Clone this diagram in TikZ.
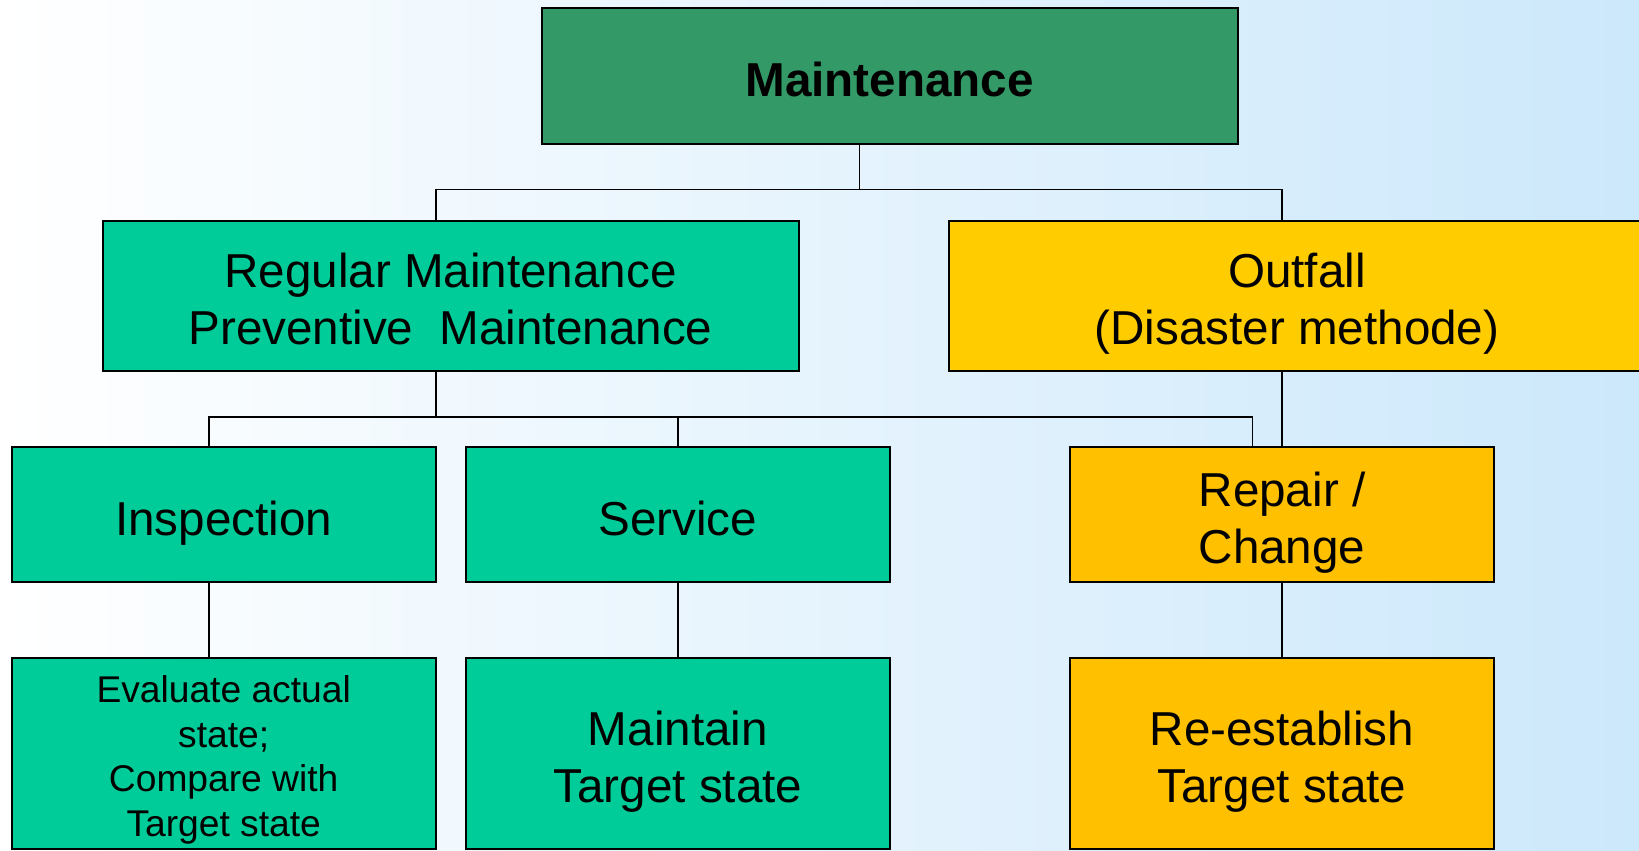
\documentclass[tikz,border=0pt]{standalone}
\usepackage{fontspec}
\setmainfont{Liberation Sans}
\usetikzlibrary{positioning}
\definecolor{mntdark}{HTML}{339966}
\definecolor{mntteal}{HTML}{00CC99}
\definecolor{mntgold}{HTML}{FFCC00}
\definecolor{mntamber}{HTML}{FFC000}
\definecolor{mntsky}{HTML}{CCE8FB}
% lines of a box, with a fixed top and bottom
\newcommand{\mtext}[1]{\rule{0pt}{1.06em}#1\rule[-0.21em]{0pt}{0.21em}}
\tikzset{
  box/.style={draw=black, line width=1pt, align=center, inner sep=0pt,
    font=\fontsize{23.8}{28.5}\selectfont},
  link/.style={draw=black, line width=0.65pt}
}

\begin{document}
\begin{tikzpicture}[x=0.5pt, y=-0.5pt]
  % Background
  \useasboundingbox (0,0) rectangle (1639,851);
  \shade[left color=white, right color=mntsky] (0,0) rectangle (1639,851);
  % Rows
  \def\rowc{514.8}
  \def\rowd{753.6}
  % Top box
  \node[box, fill=mntdark, minimum width=348pt, minimum height=68pt,
    font=\fontsize{23.8}{28.5}\selectfont\bfseries] (maint) at (889.6,76.4) {\mtext{Maintenance}};
  % First level
  \node[box, fill=mntteal, minimum width=348pt, minimum height=75.2pt] (regular) at (450.5,295.9)
    {\mtext{Regular Maintenance\\Preventive\ \ Maintenance}};
  \node[box, fill=mntgold, minimum width=348pt, minimum height=75.2pt] (outfall) at (1297,295.9)
    {\mtext{Outfall\\(Disaster methode)}};
  % Second level
  \node[box, fill=mntteal, minimum width=212.2pt, minimum height=67.4pt] (inspection) at (223.7,\rowc) {\mtext{Inspection}};
  \node[box, fill=mntteal, minimum width=212.2pt, minimum height=67.4pt] (service) at (677.9,\rowc) {\mtext{Service}};
  \node[box, fill=mntamber, minimum width=212.2pt, minimum height=67.4pt] (repair) at (1282,\rowc) {\mtext{Repair /\\Change}};
  % Third level
  \node[box, fill=mntteal, minimum width=212.2pt, minimum height=95.2pt,
    font=\fontsize{18.6}{22.4}\selectfont] (evaluate) at (223.7,\rowd)
    {\mtext{Evaluate actual\\state;\\Compare with\\Target state}};
  \node[box, fill=mntteal, minimum width=212.2pt, minimum height=95.2pt] (keep) at (677.9,\rowd)
    {\mtext{Maintain\\Target state}};
  \node[box, fill=mntamber, minimum width=212.2pt, minimum height=95.2pt] (restore) at (1282,\rowd)
    {\mtext{Re-establish\\Target state}};
  % Bus joints
  \coordinate (busA) at (859.2,189.2);
  \coordinate (busB) at (435.9,417.1);
  \coordinate (dropI) at (209,0);
  \coordinate (dropR) at (1252.3,0);
  % Connectors
  \draw[link] (maint.south -| busA) -- (busA);
  \draw[link] (regular.north -| busB) |- (busA) -| (outfall.north -| repair.north);
  \draw[link] (regular.south -| busB) -- (busB);
  \draw[link] (inspection.north -| dropI) |- (busB) -| (repair.north -| dropR);
  \draw[link] (service.north) -- (service.north |- busB);
  \draw[link] (outfall.south -| repair.north) -- (repair.north);
  \draw[link] (inspection.south -| dropI) -- (evaluate.north -| dropI);
  \draw[link] (service.south) -- (keep.north);
  \draw[link] (repair.south) -- (restore.north);
\end{tikzpicture}
\end{document}
